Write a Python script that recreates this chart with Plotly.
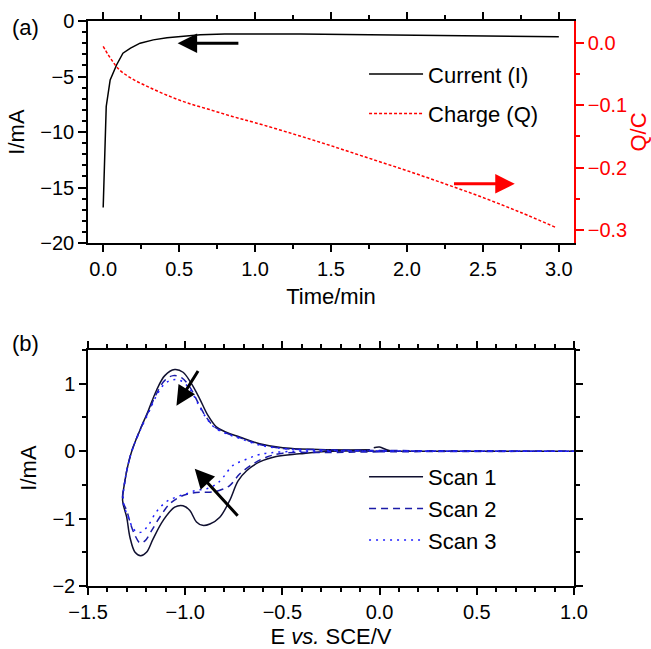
import plotly.graph_objects as go

# ---------------- Data: panel (a) ----------------
t_current = [0.0, 0.02, 0.046, 0.088, 0.13, 0.18, 0.243, 0.33, 0.42, 0.5, 0.64, 0.8, 1.0, 1.3, 1.6, 2.0, 2.5, 3.0]
I_current = [-16.8, -7.7, -5.3, -3.96, -2.9, -2.45, -2.0, -1.7, -1.5, -1.42, -1.23, -1.17, -1.15, -1.17, -1.22, -1.28, -1.35, -1.41]

t_charge = [0.0, 0.03, 0.06, 0.09, 0.13, 0.2, 0.3, 0.42, 0.55, 0.7, 0.85, 1.0, 1.25, 1.5, 1.75, 2.0, 2.25, 2.5, 2.75, 2.98]
Q_charge = [-0.0055, -0.018, -0.029, -0.039, -0.048, -0.059, -0.071, -0.084, -0.096, -0.107, -0.118, -0.128,
            -0.146, -0.165, -0.185, -0.205, -0.226, -0.248, -0.272, -0.296]

# ---------------- Data: panel (b) ----------------
E_scan1 = [-0.03, 0.0, 0.05, 0.3, 1.0, 0.5, 0.0, -0.258, -0.412, -0.532, -0.617, -0.684, -0.728, -0.771, -0.822, -0.873,
           -0.911, -0.942, -0.976, -1.011, -1.054, -1.114, -1.165, -1.199, -1.229, -1.258, -1.284, -1.301, -1.322,
           -1.310, -1.293, -1.271, -1.233, -1.19, -1.148, -1.105, -1.054, -1.011, -0.968, -0.926, -0.883, -0.84,
           -0.789, -0.72, -0.617, -0.498, -0.258, -0.05]
I_scan1 = [0.05, 0.06, 0.01, 0.0, 0.0, 0.0, 0.0, 0.0, -0.04, -0.08, -0.16, -0.29, -0.44, -0.73, -0.98, -1.08,
           -1.10, -1.05, -0.88, -0.81, -0.83, -1.03, -1.30, -1.50, -1.55, -1.50, -1.28, -0.98, -0.73,
           -0.44, -0.19, 0.035, 0.31, 0.60, 0.90, 1.12, 1.21, 1.17, 1.0, 0.78, 0.53, 0.36,
           0.28, 0.21, 0.11, 0.05, 0.02, 0.02]

E_scan2 = [1.0, 0.0, -0.258, -0.498, -0.583, -0.651, -0.72, -0.771, -0.822, -0.873, -0.926, -0.976, -1.028, -1.079,
           -1.131, -1.173, -1.207, -1.233, -1.258, -1.281, -1.301, -1.322,
           -1.31, -1.293, -1.271, -1.233, -1.19, -1.148, -1.105, -1.062, -1.019, -0.976, -0.934, -0.891, -0.849,
           -0.789, -0.72, -0.617, -0.498, -0.258, 0.0, 1.0]
I_scan2 = [0.0, -0.01, -0.02, -0.03, -0.09, -0.19, -0.34, -0.51, -0.58, -0.61, -0.61, -0.63, -0.68, -0.78,
           -0.98, -1.18, -1.33, -1.36, -1.25, -1.08, -0.88, -0.73,
           -0.44, -0.19, 0.03, 0.31, 0.58, 0.85, 1.05, 1.12, 1.09, 0.95, 0.72, 0.50, 0.36,
           0.27, 0.20, 0.10, 0.04, 0.02, 0.01, 0.0]

E_scan3 = [1.0, -0.258, -0.5, -0.617, -0.684, -0.754, -0.805, -0.84, -0.891, -0.942, -0.993, -1.045, -1.097,
           -1.148, -1.19, -1.224, -1.25, -1.271, -1.293, -1.318,
           -1.31, -1.293, -1.271, -1.233, -1.19, -1.148, -1.105, -1.062, -1.019, -0.976, -0.934, -0.891, -0.849,
           -0.789, -0.72, -0.617, -0.498, -0.258, 1.0]
I_scan3 = [0.0, 0.0, -0.01, -0.05, -0.12, -0.21, -0.39, -0.49, -0.56, -0.58, -0.63, -0.68, -0.75,
           -0.90, -1.10, -1.20, -1.20, -1.13, -0.98, -0.76,
           -0.44, -0.19, 0.03, 0.30, 0.56, 0.82, 1.0, 1.06, 1.04, 0.92, 0.70, 0.49, 0.35,
           0.26, 0.19, 0.09, 0.04, 0.01, 0.0]

FONT = "Liberation Sans, Arial, sans-serif"
TICKF = dict(family=FONT, size=20, color="black")
TITLEF = dict(family=FONT, size=22, color="black")
RED = "#ff0000"

T_RANGE = [-0.1, 3.1]
I_RANGE = [-20, 0]
E_RANGE = [-1.5, 1.0]
CV_RANGE = [-2, 1.5]

fig = go.Figure()

# panel (a)
fig.add_trace(go.Scatter(x=t_current, y=I_current, mode="lines", name="Current (I)",
                         line=dict(color="black", width=1.5), xaxis="x", yaxis="y",
                         legend="legend", legendgroup="a1"))
fig.add_trace(go.Scatter(x=t_charge, y=Q_charge, mode="lines", name="Charge (Q)", line_shape="spline",
                         line=dict(color=RED, width=1.5, dash="3px,2px"), xaxis="x", yaxis="y2",
                         legend="legend", legendgroup="a2"))

# panel (b)
fig.add_trace(go.Scatter(x=E_scan1, y=I_scan1, mode="lines", name="Scan 1", line_shape="spline",
                         line=dict(color="#101030", width=1.5), xaxis="x2", yaxis="y3", legend="legend2"))
fig.add_trace(go.Scatter(x=E_scan2, y=I_scan2, mode="lines", name="Scan 2", line_shape="spline",
                         line=dict(color="#1c1ca8", width=1.5, dash="7px,5px"), xaxis="x2", yaxis="y3",
                         legend="legend2"))
fig.add_trace(go.Scatter(x=E_scan3, y=I_scan3, mode="lines", name="Scan 3", line_shape="spline",
                         line=dict(color="#2020ff", width=1.5, dash="2px,5px"), xaxis="x2", yaxis="y3",
                         legend="legend2"))

common = dict(showgrid=False, zeroline=False, showline=True, linecolor="black", linewidth=1.5,
              tickcolor="black", tickwidth=1.5, automargin=False, tickfont=TICKF)

TOP_DOM = [0.607, 1.0]
BOT_DOM = [0.0, 0.4177]

fig.update_layout(
    width=651, height=649,
    margin=dict(l=88, r=77, t=21, b=63),
    paper_bgcolor="white", plot_bgcolor="white",
    template="none",
    xaxis=dict(**common, domain=[0, 1], anchor="y", range=T_RANGE, dtick=0.5, tick0=0, mirror="ticks",
               tickformat=".1f", ticks="outside", ticklen=7,
               minor=dict(dtick=0.25, ticks="outside", ticklen=4, tickcolor="black", tickwidth=1.5),
               title=dict(text="Time/min", font=TITLEF, standoff=10)),
    yaxis=dict(**common, domain=TOP_DOM, anchor="x", range=I_RANGE, dtick=5, ticks="outside", ticklen=8,
               minor=dict(dtick=1, ticks="outside", ticklen=4, tickcolor="black", tickwidth=1.5),
               title=dict(text="I/mA", font=TITLEF, standoff=10)),
    yaxis2=dict(showgrid=False, zeroline=False, showline=True, linecolor=RED, linewidth=1.5,
                tickcolor=RED, tickwidth=1.5, automargin=False,
                tickfont=dict(family=FONT, size=20, color=RED),
                overlaying="y", side="right", anchor="x", range=[-0.321, 0.035], dtick=0.1, tick0=0,
                tickformat=".1f", ticks="outside", ticklen=8,
                minor=dict(dtick=0.05, ticks="outside", ticklen=4, tickcolor=RED, tickwidth=1.5),
                title=dict(text="Q/C", font=dict(family=FONT, size=22, color=RED), standoff=6)),
    xaxis2=dict(**common, domain=[0, 1], anchor="y3", range=E_RANGE, dtick=0.5, tick0=0, mirror="ticks",
                tickformat=".1f", ticks="outside", ticklen=7,
                minor=dict(dtick=0.1, ticks="outside", ticklen=4, tickcolor="black", tickwidth=1.5),
                title=dict(text="E <i>vs.</i> SCE/V", font=TITLEF, standoff=14)),
    yaxis3=dict(**common, domain=BOT_DOM, anchor="x2", range=CV_RANGE, dtick=1, mirror="ticks",
                ticks="outside", ticklen=7,
                minor=dict(dtick=0.5, ticks="outside", ticklen=4, tickcolor="black", tickwidth=1.5),
                title=dict(text="I/mA", font=TITLEF, standoff=10)),
    legend=dict(x=0.568, y=0.943, xanchor="left", yanchor="top", bgcolor="rgba(0,0,0,0)",
                font=dict(family=FONT, size=22, color="black"), itemwidth=54,
                traceorder="grouped", tracegroupgap=8),
    legend2=dict(x=0.568, y=0.23, xanchor="left", yanchor="top", bgcolor="rgba(0,0,0,0)",
                 font=dict(family=FONT, size=22, color="black"), itemwidth=54),
    showlegend=True,
)

annotations = [
    dict(x=0.49, y=-2.0, ax=0.90, ay=-2.0, xref="x", yref="y", axref="x", ayref="y",
         text="", showarrow=True, arrowhead=2, arrowsize=1.3, arrowwidth=3, arrowcolor="black"),
    dict(x=2.71, y=-0.226, ax=2.30, ay=-0.226, xref="x", yref="y2", axref="x", ayref="y2",
         text="", showarrow=True, arrowhead=2, arrowsize=1.3, arrowwidth=3, arrowcolor=RED),
    dict(x=-1.045, y=0.675, ax=-0.929, ay=1.21, xref="x2", yref="y3", axref="x2", ayref="y3",
         text="", showarrow=True, arrowhead=2, arrowsize=1.3, arrowwidth=3, arrowcolor="black"),
    dict(x=-0.951, y=-0.26, ax=-0.723, ay=-0.98, xref="x2", yref="y3", axref="x2", ayref="y3",
         text="", showarrow=True, arrowhead=2, arrowsize=1.3, arrowwidth=3, arrowcolor="black"),
    dict(x=-0.16, y=0.989, xref="paper", yref="paper", text="(a)", showarrow=False,
         xanchor="left", yanchor="middle", font=TITLEF),
    dict(x=-0.16, y=0.429, xref="paper", yref="paper", text="(b)", showarrow=False,
         xanchor="left", yanchor="middle", font=TITLEF),
]
fig.update_layout(annotations=annotations)

fig.write_html("out.html")
